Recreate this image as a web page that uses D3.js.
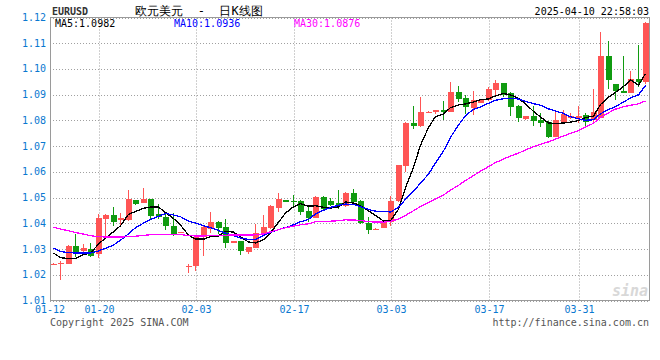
<!DOCTYPE html>
<html><head><meta charset="utf-8">
<script src="https://cdn.jsdelivr.net/npm/d3@7"></script>
<style>
body{margin:0;background:#fff;}
text{font-family:"DejaVu Sans Mono",monospace;}
</style>
</head><body><svg id="chart" width="660" height="360"></svg>
<script>
const dates = ["01-12","01-13","01-14","01-15","01-16","01-17","01-20","01-21","01-22","01-23",
"01-24","01-25","01-27","01-28","01-29","01-30","01-31","02-01","02-02","02-03",
"02-04","02-05","02-06","02-07","02-08","02-10","02-11","02-12","02-13","02-14",
"02-15","02-16","02-17","02-18","02-19","02-20","02-21","02-22","02-24","02-25",
"02-26","02-27","02-28","03-01","03-02","03-03","03-04","03-05","03-06","03-07",
"03-08","03-10","03-11","03-12","03-13","03-14","03-15","03-16","03-17","03-18",
"03-19","03-20","03-21","03-22","03-24","03-25","03-26","03-27","03-28","03-29",
"03-31","04-01","04-02","04-03","04-04","04-05","04-07","04-08","04-09","04-10"];

const opens = [1.0240,1.0243,1.0243,1.0312,1.0292,1.0301,1.0279,1.0416,1.0433,1.0412,
1.0413,1.0491,1.0480,1.0494,1.0435,1.0426,1.0390,1.0363,1.0234,1.0235,
1.0346,1.0377,1.0406,1.0386,1.0325,1.0332,1.0290,1.0306,1.0359,1.0381,
1.0461,1.0491,1.0488,1.0487,1.0448,1.0422,1.0503,1.0487,1.0480,1.0467,
1.0517,1.0488,1.0400,1.0377,1.0383,1.0404,1.0485,1.0622,1.0788,1.0778,
1.0829,1.0831,1.0840,1.0833,1.0910,1.0887,1.0848,1.0869,1.0878,1.0920,
1.0945,1.0907,1.0855,1.0806,1.0816,1.0800,1.0794,1.0736,1.0794,1.0811,
1.0811,1.0820,1.0803,1.0810,1.1049,1.0940,1.0914,1.0907,1.0960,1.0948];

const highs = [1.0244,1.0254,1.0314,1.0359,1.0320,1.0325,1.0435,1.0436,1.0462,1.0439,
1.0529,1.0492,1.0538,1.0495,1.0475,1.0437,1.0439,1.0366,1.0240,1.0348,
1.0389,1.0444,1.0408,1.0416,1.0333,1.0333,1.0308,1.0397,1.0433,1.0471,
1.0519,1.0492,1.0510,1.0490,1.0465,1.0505,1.0506,1.0497,1.0529,1.0520,
1.0532,1.0490,1.0424,1.0380,1.0409,1.0506,1.0628,1.0795,1.0855,1.0891,
1.0835,1.0841,1.0874,1.0949,1.0933,1.0898,1.0913,1.0883,1.0930,1.0959,
1.0947,1.0912,1.0860,1.0817,1.0855,1.0827,1.0799,1.0833,1.0840,1.0827,
1.0855,1.0827,1.0924,1.1143,1.1107,1.0942,1.1049,1.0991,1.1095,1.1182];

const lows = [1.0237,1.0178,1.0241,1.0271,1.0275,1.0268,1.0267,1.0348,1.0391,1.0388,
1.0410,1.0472,1.0478,1.0416,1.0418,1.0374,1.0349,1.0362,1.0206,1.0213,
1.0274,1.0362,1.0357,1.0306,1.0324,1.0278,1.0279,1.0303,1.0352,1.0376,
1.0445,1.0481,1.0465,1.0433,1.0407,1.0420,1.0450,1.0468,1.0455,1.0465,
1.0482,1.0398,1.0359,1.0376,1.0381,1.0388,1.0483,1.0600,1.0765,1.0775,
1.0828,1.0826,1.0803,1.0831,1.0872,1.0823,1.0820,1.0867,1.0876,1.0891,
1.0890,1.0816,1.0794,1.0803,1.0780,1.0775,1.0733,1.0734,1.0790,1.0806,
1.0788,1.0778,1.0790,1.0808,1.0924,1.0878,1.0905,1.0905,1.0930,1.0943];

const closes = [1.0242,1.0245,1.0312,1.0286,1.0305,1.0272,1.0420,1.0433,1.0407,1.0420,
1.0494,1.0477,1.0494,1.0429,1.0423,1.0388,1.0360,1.0365,1.0236,1.0346,
1.0385,1.0406,1.0382,1.0325,1.0332,1.0291,1.0307,1.0363,1.0387,1.0469,
1.0495,1.0484,1.0487,1.0445,1.0422,1.0503,1.0454,1.0471,1.0469,1.0517,
1.0484,1.0400,1.0374,1.0379,1.0407,1.0488,1.0626,1.0790,1.0780,1.0833,
1.0833,1.0840,1.0834,1.0910,1.0885,1.0852,1.0878,1.0881,1.0921,1.0945,
1.0898,1.0852,1.0811,1.0816,1.0798,1.0790,1.0736,1.0800,1.0825,1.0816,
1.0819,1.0794,1.0831,1.1049,1.0957,1.0914,1.0907,1.0960,1.0948,1.1180];

// closes before the first visible day (only used for the moving averages)
const priorCloses = [1.0455,1.0522,1.0496,1.0485,1.0452,1.0540,1.0463,1.0407,1.0420,1.0464,
1.0417,1.0404,1.0339,1.0393,1.0388,1.0360,1.0365,1.0386,1.0376,1.0385,
1.0376,1.0352,1.0303,1.0310,1.0270,1.0335,1.0330,1.0280,1.0235];

const yTicks = [1.01,1.02,1.03,1.04,1.05,1.06,1.07,1.08,1.09,1.10,1.11,1.12];
const xTickDates = ["01-12","01-20","02-03","02-17","03-03","03-17","03-31"];
const maPeriods = [5,10,30];
const maColors = ["#000000","#0000ff","#ff00ff"];
const maLabels = ["MA5:1.0982","MA10:1.0936","MA30:1.0876"];

const svg = d3.select("#chart");
const L = 50, R = 650, T = 17.5, B = 300.5;
const x = d3.scaleBand().domain(dates).range([L, R]).paddingInner(0.2).paddingOuter(0.1);
const y = d3.scaleLinear().domain([1.01, 1.12]).range([B, T]);
const bw = x.bandwidth();

const gridColor = "#a0a0a0";
const blue = "#0a78d0";

// horizontal grid + labels
yTicks.forEach(v => {
  const yy = Math.round(y(v)) + 0.5;
  svg.append("line").attr("x1", L).attr("x2", R).attr("y1", yy).attr("y2", yy)
    .attr("stroke", gridColor).attr("stroke-dasharray", "1,2");
  svg.append("text").attr("x", 46).attr("y", y(v) + 3.5).attr("text-anchor", "end")
    .attr("font-size", 10).attr("fill", blue).text(v.toFixed(2));
});

// vertical grid + date labels
xTickDates.forEach((d, i) => {
  const xx = i === 0 ? L : Math.round(x(d) + bw / 2) + 0.5;
  if (i > 0) {
    svg.append("line").attr("x1", xx).attr("x2", xx).attr("y1", T).attr("y2", B)
      .attr("stroke", gridColor).attr("stroke-dasharray", "1,2");
  }
  svg.append("text").attr("x", xx).attr("y", 313).attr("text-anchor", "middle")
    .attr("font-size", 10).attr("fill", blue).text(d);
});

// frame
svg.append("rect").attr("x", L + 0.5).attr("y", T).attr("width", R - L - 1).attr("height", B - T)
  .attr("fill", "none").attr("stroke", "#9a9a9a").attr("stroke-width", 1);

// candles
const red = "#ff5555", green = "#109b10";
const g = svg.append("g").attr("shape-rendering", "crispEdges");
dates.forEach((d, i) => {
  const up = closes[i] >= opens[i];
  const col = up ? red : green;
  const xl = Math.round(x(d));
  g.append("line").attr("x1", xl + 2.5).attr("x2", xl + 2.5)
    .attr("y1", y(highs[i])).attr("y2", y(lows[i])).attr("stroke", col);
  const top = y(Math.max(opens[i], closes[i]));
  const h = Math.max(1, Math.abs(y(opens[i]) - y(closes[i])));
  g.append("rect").attr("x", xl).attr("y", top).attr("width", 6).attr("height", h).attr("fill", col);
});

// moving averages
const all = priorCloses.concat(closes);
const off = priorCloses.length;
maPeriods.forEach((n, k) => {
  const vals = closes.map((c, i) => d3.mean(all.slice(off + i - n + 1, off + i + 1)));
  const line = d3.line().x((v, i) => Math.round(x(dates[i])) + 2.5).y(v => y(v));
  svg.append("path").attr("d", line(vals)).attr("fill", "none")
    .attr("stroke", maColors[k]).attr("stroke-width", 1.3).attr("shape-rendering", "crispEdges");
});

// header
svg.append("text").attr("x", 52).attr("y", 15).attr("font-size", 10).attr("font-weight", "bold")
  .attr("font-family", "DejaVu Serif").attr("fill", "#333").text("EURUSD");
svg.append("text").attr("x", 199).attr("y", 14.5).attr("text-anchor", "middle")
  .attr("font-size", 12).attr("font-family", "Noto Sans CJK SC").attr("fill", "#000")
  .style("white-space", "pre").text("欧元美元  -  日K线图");
svg.append("text").attr("x", 649).attr("y", 15).attr("text-anchor", "end")
  .attr("font-size", 10).attr("fill", "#000").text("2025-04-10 22:58:03");
const legX = [55, 174, 294];
maLabels.forEach((t, k) => {
  svg.append("text").attr("x", legX[k]).attr("y", 27).attr("font-size", 10)
    .attr("fill", maColors[k]).text(t);
});

// footer
svg.append("text").attr("x", 50).attr("y", 326).attr("font-size", 10).attr("fill", "#555")
  .text("Copyright 2025 SINA.COM");
svg.append("text").attr("x", 649).attr("y", 326).attr("text-anchor", "end").attr("font-size", 10)
  .attr("fill", "#555").text("http://finance.sina.com.cn");

// watermark
svg.append("text").attr("x", 630).attr("y", 296).attr("text-anchor", "middle")
  .attr("font-size", 15).attr("font-style", "italic").attr("font-weight", "bold")
  .attr("font-family", "Liberation Sans").attr("fill", "#d8d8d8").text("sina");
</script></body></html>
